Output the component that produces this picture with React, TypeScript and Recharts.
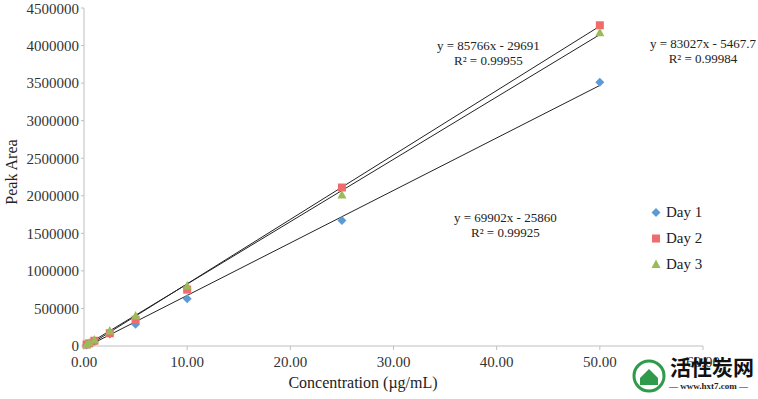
import {
  ScatterChart,
  Scatter,
  XAxis,
  YAxis,
} from "recharts";

// concentrations (µg/mL)
const conc = [0.25, 0.5, 1, 2.5, 5, 10, 25, 50];

// peak areas per day
const day1 = [12000, 25000, 60000, 160000, 290000, 630000, 1670000, 3510000];
const day2 = [20000, 35000, 70000, 170000, 350000, 750000, 2110000, 4270000];
const day3 = [15000, 40000, 80000, 200000, 400000, 800000, 2010000, 4170000];

const seriesNames = ["Day 1", "Day 2", "Day 3"];
const colors = ["#5b9bd5", "#f06b6b", "#9bbb59"];

// linear fits shown on the chart
const slopes = [69902, 85766, 83027];
const intercepts = [-25860, -29691, -5467.7];
const r2 = ["0.99925", "0.99955", "0.99984"];
const fitStart = [0.5, 0.5, 0.25];
const fitEnd = 50;

const xTicks = [0, 10, 20, 30, 40, 50, 60];
const yTicks = [0, 500000, 1000000, 1500000, 2000000, 2500000, 3000000, 3500000, 4000000, 4500000];

const FONT = "'Liberation Serif', 'DejaVu Serif', serif";

const toPoints = (ys: number[]) => conc.map((x, i) => ({ x, y: ys[i] }));
const fitLine = (i: number) =>
  [fitStart[i], fitEnd].map((x) => ({ x, y: slopes[i] * x + intercepts[i] }));

function Diamond({ cx, cy }: any) {
  const r = 4.5;
  return (
    <path
      d={`M${cx},${cy - r}L${cx + r},${cy}L${cx},${cy + r}L${cx - r},${cy}Z`}
      fill={colors[0]}
    />
  );
}
function Square({ cx, cy }: any) {
  return <rect x={cx - 4} y={cy - 4} width={8} height={8} fill={colors[1]} />;
}
function Triangle({ cx, cy }: any) {
  return (
    <path d={`M${cx},${cy - 5}L${cx + 4.5},${cy + 3.5}L${cx - 4.5},${cy + 3.5}Z`} fill={colors[2]} />
  );
}
const shapes = [Diamond, Square, Triangle];

function Empty() {
  return <g />;
}

const eqStyle = (left: number, top: number): React.CSSProperties => ({
  position: "absolute",
  left,
  top,
  fontFamily: FONT,
  fontSize: 13,
  color: "#222",
  textAlign: "center",
  lineHeight: "15px",
  whiteSpace: "nowrap",
});

// label placement for each fit: [Day1, Day2, Day3]
const eqPos = [
  [454, 210],
  [437, 38],
  [650, 36],
];

export default function App() {
  const fmt = (n: number) => `y = ${slopes[n]}x - ${Math.abs(intercepts[n])}`;
  return (
    <div style={{ position: "absolute", left: 0, top: 0, width: 758, height: 399, background: "#fff" }}>
      <ScatterChart width={758} height={399} margin={{ top: 8, right: 55, bottom: 0, left: 8 }}>
        <XAxis
          type="number"
          dataKey="x"
          domain={[0, 60]}
          ticks={xTicks}
          tickFormatter={(v: number) => v.toFixed(2)}
          height={53}
          stroke="#bfbfbf"
          tickSize={4}
          tickMargin={6}
          tick={{ fill: "#333", fontSize: 15, fontFamily: FONT }}
        />
        <YAxis
          type="number"
          dataKey="y"
          domain={[0, 4500000]}
          ticks={yTicks}
          width={76}
          stroke="#bfbfbf"
          tickSize={3}
          tickMargin={2}
          tick={{ fill: "#333", fontSize: 15, fontFamily: FONT }}
        />
        {[0, 1, 2].map((i) => (
          <Scatter
            key={`fit${i}`}
            data={fitLine(i)}
            line={{ stroke: "#222", strokeWidth: 1 }}
            shape={<Empty />}
            legendType="none"
            isAnimationActive={false}
          />
        ))}
        {[day1, day2, day3].map((d, i) => {
          const S = shapes[i];
          return (
            <Scatter
              key={seriesNames[i]}
              name={seriesNames[i]}
              data={toPoints(d)}
              fill={colors[i]}
              shape={(p: any) => <S cx={p.cx} cy={p.cy} />}
              isAnimationActive={false}
            />
          );
        })}
      </ScatterChart>

      {/* axis titles */}
      <div
        style={{
          position: "absolute",
          left: 363,
          top: 374,
          transform: "translateX(-50%)",
          fontFamily: FONT,
          fontSize: 16,
          color: "#222",
          whiteSpace: "nowrap",
        }}
      >
        Concentration (µg/mL)
      </div>
      <div
        style={{
          position: "absolute",
          left: 12,
          top: 172,
          transform: "translate(-50%, -50%) rotate(-90deg)",
          fontFamily: FONT,
          fontSize: 16,
          color: "#222",
          whiteSpace: "nowrap",
        }}
      >
        Peak Area
      </div>

      {/* legend */}
      <div style={{ position: "absolute", left: 650, top: 199, fontFamily: FONT, fontSize: 15, color: "#222" }}>
        {seriesNames.map((n, i) => {
          const S = shapes[i];
          return (
            <div key={n} style={{ display: "flex", alignItems: "center", height: 26 }}>
              <svg width={12} height={14} style={{ marginRight: 4 }}>
                <S cx={6} cy={7.5} />
              </svg>
              {n}
            </div>
          );
        })}
      </div>

      {[0, 1, 2].map((i) => (
        <div key={`eq${i}`} style={eqStyle(eqPos[i][0], eqPos[i][1])}>
          {fmt(i)}
          <br />
          R² = {r2[i]}
        </div>
      ))}

      {/* site watermark */}
      <svg style={{ position: "absolute", left: 631, top: 358 }} width={36} height={36}>
        <circle cx={18} cy={18} r={15} fill="none" stroke="#2e9a4a" strokeWidth={3} />
        <path d="M9,20L18,11L27,20V27H9Z" fill="#2e9a4a" />
      </svg>
      <div
        style={{
          position: "absolute",
          left: 670,
          top: 354,
          fontFamily: "'Noto Sans CJK SC', sans-serif",
          fontWeight: 700,
          fontSize: 21,
          lineHeight: "24px",
          color: "#111",
          whiteSpace: "nowrap",
        }}
      >
        活性炭网
      </div>
      <div
        style={{
          position: "absolute",
          left: 669,
          top: 381,
          fontFamily: FONT,
          fontWeight: 700,
          fontSize: 9,
          color: "#222",
          whiteSpace: "nowrap",
        }}
      >
        — www.hxt7.com —
      </div>
    </div>
  );
}
